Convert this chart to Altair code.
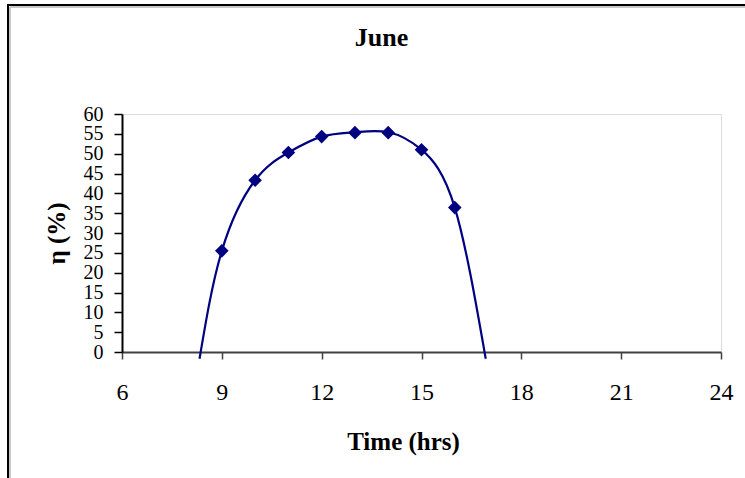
import altair as alt
import pandas as pd

# Measured data points (hour, efficiency %)
hours = [9, 10, 11, 12, 13, 14, 15, 16]
eta = [25.5, 43.3, 50.3, 54.3, 55.3, 55.3, 51.0, 36.4]

# Trend curve (incl. where it leaves the plot at the bottom)
trend_hours = [8.33, 9, 10, 11, 12, 13, 14, 15, 16, 16.93]
trend_eta = [-1.7, 25.5, 43.3, 50.3, 54.3, 55.4, 55.4, 51.0, 36.4, -1.7]

x_ticks = [6, 9, 12, 15, 18, 21, 24]
y_ticks = list(range(0, 61, 5))

chart_title = ["June"]

pts = pd.DataFrame({"h": hours, "eta": eta})
trend = pd.DataFrame({"h": trend_hours, "eta": trend_eta})
title_df = pd.DataFrame({"t": chart_title})

FONT = "Liberation Serif"
NAVY = "#000080"

x_enc = alt.X(
    "h:Q",
    scale=alt.Scale(domain=[6, 24], nice=False, zero=False),
    axis=alt.Axis(
        values=x_ticks, title="Time (hrs)", grid=False,
        domainColor="#404040", domainWidth=2, tickColor="#404040", tickWidth=1.5,
        tickSize=7, labelFontSize=24, labelFont=FONT, labelColor="black",
        labelBaseline="alphabetic", labelPadding=40, labelFlush=False,
        titleFont=FONT, titleFontSize=25, titleFontWeight="bold", titleColor="black",
        titleX=281, titleY=97, titleBaseline="alphabetic", titleAnchor="middle",
    ),
)
y_enc = alt.Y(
    "eta:Q",
    scale=alt.Scale(domain=[0, 60], nice=False),
    axis=alt.Axis(
        values=y_ticks, title="η (%)", grid=False,
        domainColor="black", domainWidth=2, tickColor="black", tickWidth=1.5,
        tickSize=8, labelFontSize=20, labelFont=FONT, labelColor="black",
        labelPadding=11, labelFlush=False, labelOverlap=False,
        titleFont=FONT, titleFontSize=25, titleFontWeight="bold", titleColor="black",
        titleAngle=270, titleX=-58, titleY=119, titleBaseline="alphabetic",
        titleAlign="center",
    ),
)

border = alt.Chart(pts).mark_rect(
    fill=None, stroke="black", strokeWidth=2, clip=False
).encode(x=alt.value(-114), x2=alt.value(700), y=alt.value(-109), y2=alt.value(500))

border2 = alt.Chart(pts).mark_rect(
    fill=None, stroke="#c8c8c8", strokeWidth=1, clip=False
).encode(x=alt.value(-112), x2=alt.value(700), y=alt.value(-107), y2=alt.value(500))

title_mark = alt.Chart(title_df).mark_text(
    font=FONT, fontSize=26, fontWeight="bold", color="black",
    align="center", baseline="alphabetic", clip=False
).encode(text="t:N", x=alt.value(259.5), y=alt.value(-68))

line = alt.Chart(trend).mark_line(
    color=NAVY, strokeWidth=2.2, interpolate="natural", clip=False
).encode(x=x_enc, y=y_enc)

points = alt.Chart(pts).mark_point(
    shape="diamond", filled=True, color=NAVY, size=185, opacity=1
).encode(x=x_enc, y=y_enc)

chart = alt.layer(border2, border, title_mark, line, points).properties(
    width=599,
    height=238,
    autosize=alt.AutoSizeParams(type="none"),
    padding={"left": 122, "top": 114, "right": 24, "bottom": 126},
).configure_view(stroke="#808080", strokeWidth=2).configure(background="white")

chart.save("out.html", embed_options={"renderer": "svg", "actions": False})
